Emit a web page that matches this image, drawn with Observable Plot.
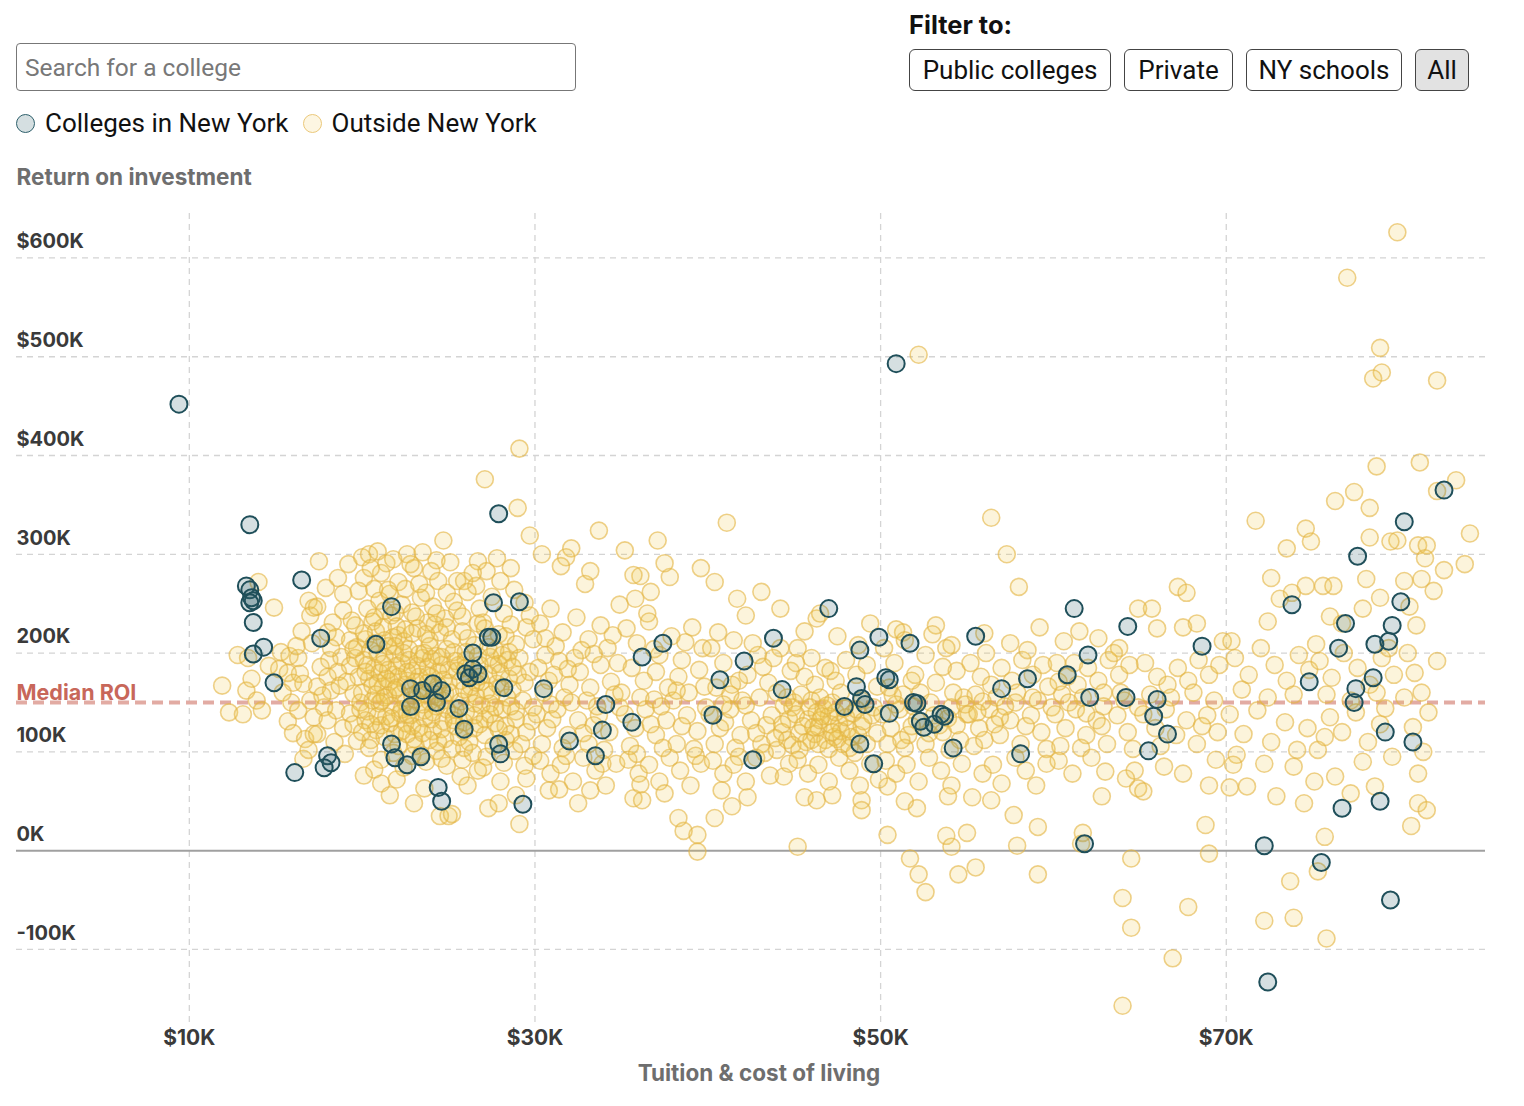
<!DOCTYPE html>
<html><head><meta charset="utf-8">
<script src="https://cdn.jsdelivr.net/npm/d3@7"></script>
<script src="https://cdn.jsdelivr.net/npm/@observablehq/plot@0.6"></script>
<style>
body{margin:0;background:#fff;width:1524px;height:1106px;position:relative;overflow:hidden;font-family:Roboto,sans-serif;}
#search{position:absolute;left:16px;top:43px;width:560px;height:48px;box-sizing:border-box;border:1px solid #777;border-radius:4px;font:24.5px Roboto;padding:0 0 0 8px;color:#333;outline:none}
#search::placeholder{color:#787878}
.legend{position:absolute;left:16px;top:108px;font:26px Roboto;color:#111;display:flex;align-items:center;height:30px}
.sw{display:inline-block;width:19px;height:19px;border-radius:50%;box-sizing:border-box;margin-right:10px}
.legend .item{display:flex;align-items:center;margin-right:14px}
.filter-title{position:absolute;left:909px;top:9px;font:700 25.5px Inter,sans-serif;color:#111}
.buttons{position:absolute;left:909px;top:49px;display:flex;gap:13px}
.buttons button{height:42px;border:1px solid #444;border-radius:6px;background:#fff;font:26px Roboto;color:#111;padding:0;box-sizing:border-box}
#chart{position:absolute;left:0;top:150px}
</style></head>
<body>
<input id="search" placeholder="Search for a college">
<div class="legend">
  <span class="item"><span class="sw" style="background:#d5dfe1;border:1.5px solid #2d5f6b"></span>Colleges in New York</span>
  <span class="item"><span class="sw" style="background:#fdf6e2;border:1.5px solid #ebc87a"></span>Outside New York</span>
</div>
<div class="filter-title">Filter to:</div>
<div class="buttons">
  <button style="width:202px">Public colleges</button>
  <button style="width:109px">Private</button>
  <button style="width:156px">NY schools</button>
  <button style="width:54px;background:#e2e2e2">All</button>
</div>
<div id="chart"></div>
<script>
// Values in thousands of dollars: [tuition & cost of living, return on investment]
const newYorkColleges = [
[9.4,452],[13.5,330],[13.3,268],[13.5,264],[13.6,256],[13.7,253],[13.5,251],[13.7,231],[13.7,199],[14.3,206],
[14.9,170],[16.5,274],[16.1,79],[17.6,215],[18.0,96],[18.2,89],[17.8,84],[20.8,209],[21.7,247],[21.7,108],
[21.9,94],[22.6,87],[23.4,95],[22.8,164],[22.8,146],[23.5,162],[24.1,169],[24.6,162],[24.3,150],[24.4,64],
[24.6,50],[25.6,144],[25.9,123],[26.0,179],[26.2,175],[26.4,184],[26.7,179],[26.4,200],[27.3,216],[27.5,216],
[27.6,251],[27.9,341],[28.2,165],[27.9,108],[28.0,98],[29.1,252],[29.3,47],[30.5,164],[32.0,111],[33.5,96],
[33.9,122],[34.1,148],[35.6,130],[36.2,196],[37.4,210],[40.3,137],[40.7,173],[42.1,192],[42.6,92],[43.8,215],
[44.3,163],[47.0,245],[48.6,166],[48.8,203],[48.9,154],[49.1,148],[47.9,146],[48.8,108],[49.6,88],[49.9,216],
[50.3,175],[50.5,173],[50.5,139],[50.9,493],[51.7,210],[51.9,150],[52.1,149],[52.3,131],[52.5,125],[53.1,128],
[53.5,138],[53.7,136],[54.2,104],[55.5,217],[57.0,164],[58.1,98],[58.5,174],[60.8,178],[61.2,245],[62.0,198],
[62.1,155],[61.8,7],[64.3,227],[64.2,155],[65.5,101],[65.8,136],[66.0,153],[66.6,118],[68.6,207],[72.2,5],
[72.4,-133],[73.8,249],[74.8,171],[75.5,-12],[76.5,205],[76.7,43],[76.9,230],[77.4,150],[77.5,164],[77.6,298],
[78.5,175],[78.6,209],[78.9,50],[79.2,120],[79.4,212],[79.6,228],[79.5,-50],[80.1,252],[80.3,333],[80.8,110],
[82.6,365]
];
const outsideColleges = [
[11.9,167],[12.3,140],[13.1,138],[12.8,198],[13.4,195],[13.3,162],[13.6,174],[13.9,152],[14.2,142],[14.0,272],[14.9,246],[14.6,187],
[15.3,201],[15.8,197],[16.3,195],[15.2,184],[15.7,180],[16.4,179],[16.0,170],[16.6,169],[16.9,253],[17.2,246],[17.0,238],[17.5,293],
[15.7,131],[16.0,119],[16.7,113],[16.6,93],[17.2,118],[18.9,260],[18.9,243],[17.4,247],[19.6,228],[18.3,231],[18.0,221],[18.5,216],
[19.3,213],[19.7,206],[18.8,196],[18.1,193],[17.6,186],[18.0,176],[18.6,181],[19.3,187],[19.8,176],[17.4,166],[18.2,162],[18.7,167],
[19.5,159],[17.0,152],[17.8,145],[18.5,142],[19.3,139],[17.2,135],[18.0,132],[18.9,124],[19.5,128],[17.4,118],[19.7,111],[19.0,98],
[18.2,205],[17.1,210],[16.5,222],[15.9,150],[16.3,142],[17.7,157],[19.1,171],[19.9,150],[18.4,110],[16.9,102],[19.4,233],[17.9,266],
[18.6,276],[19.2,290],[15.4,160],[16.2,207],
[20.0,297],[20.4,300],[20.9,303],[21.4,291],[22.6,300],[23.5,302],[24.7,314],[21.8,295],
[20.1,276],[19.8,263],[20.7,265],[21.1,281],[21.6,260],[22.5,265],[23.0,286],[24.0,283],[24.4,273],[22.1,272],[23.7,261],[20.5,286],
[20.3,245],[21.0,253],[21.7,238],[22.3,249],[22.9,241],[23.4,256],[24.1,247],[24.8,235],[20.6,232],[23.8,231],[22.0,227],[21.3,243],
[20.2,214],[20.8,222],[21.5,207],[22.1,218],[22.7,204],[23.2,225],[23.9,213],[24.5,221],[24.9,204],[21.9,199],[20.5,203],[23.6,200],[22.4,212],[24.2,229],[21.2,226],
[20.1,193],[20.7,185],[21.3,196],[21.8,178],[22.3,190],[22.9,182],[23.5,195],[24.0,176],[24.6,188],[20.4,174],[21.6,171],[22.6,172],[23.3,176],[24.3,197],[25.0,183],[21.0,180],[22.0,187],[23.8,186],
[20.0,160],[20.6,152],[21.2,166],[21.7,147],[22.2,158],[22.8,145],[23.4,162],[23.9,151],[24.4,167],[24.9,143],[20.3,141],[21.5,157],[22.5,168],[23.1,153],[24.2,158],[21.0,149],[23.6,142],[20.9,170],
[20.2,132],[20.8,122],[21.4,136],[21.9,118],[22.5,129],[23.0,113],[23.6,134],[24.1,121],[24.7,131],[20.5,112],[22.2,139],[23.3,124],[24.4,110],[21.1,127],[22.8,137],
[20.4,104],[21.1,92],[21.8,99],[22.4,84],[23.1,106],[23.7,90],[24.3,101],[24.9,86],[20.7,82],[22.9,96],[24.6,93],
[20.1,76],[21.1,68],[23.0,48],[24.5,35],[25.0,35],[22.0,72],[23.6,63],[21.6,56],
[20.3,188],[20.9,199],[21.5,183],[22.1,176],[22.7,193],[23.2,187],[23.8,170],[24.4,181],[20.6,167],[21.3,155],[21.9,163],[22.5,150],[23.1,171],[23.7,158],[24.3,146],[24.8,159],
[20.9,136],[21.6,129],[22.3,143],[22.9,126],[23.5,148],[24.0,133],[24.6,123],[21.3,115],[22.6,118],[23.9,112],[20.7,210],[21.8,216],[22.9,220],[23.9,207],[24.6,196],[22.4,200],
[19.6,195],[20.2,181],[20.8,158],[21.4,174],[22.0,165],[22.6,181],[23.2,160],[23.8,177],[24.4,155],[25.0,170],[25.6,188],[26.2,159],[26.8,176],[27.4,149],[28.0,165],
[19.9,143],[20.5,128],[21.1,151],[21.7,134],[22.3,121],[22.9,157],[23.5,119],[24.1,140],[24.7,152],[25.3,137],[25.9,130],[26.5,149],[27.1,133],[27.7,145],[28.3,126],
[20.1,220],[20.7,236],[21.3,213],[21.9,241],[22.5,224],[23.1,237],[23.7,219],[24.3,240],[24.9,226],[25.5,243],[26.1,215],[26.7,230],[27.3,206],[27.9,219],[28.5,201],
[21.2,189],[21.9,207],[22.6,138],[23.3,199],[24.0,194],[24.7,173],[25.3,201],[26.0,193],[26.5,124],[27.6,188],[28.4,193],[29.0,178],[22.1,106],[23.4,97],[24.8,113],[25.9,104],[27.2,95],[28.6,118],[19.5,204],[20.0,120],
[21.5,264],[23.3,270],[24.9,261],[26.6,268],[27.2,283],[22.8,290],[24.3,294],
[29.1,407],[27.1,376],[29.0,347],[29.7,319],[28.6,286],[28.0,273],[26.7,293],[25.5,273],[25.9,273],
[25.3,252],[26.1,262],[26.8,245],[27.5,257],[28.2,240],[28.8,264],[29.4,251],[25.8,237],[27.0,231],[29.7,238],[26.4,281],[27.8,296],[25.1,292],
[25.2,214],[25.8,222],[26.5,208],[27.1,225],[27.7,203],[28.3,217],[28.9,209],[29.5,226],[26.0,201],[28.6,229],[29.9,214],
[25.4,192],[26.0,185],[26.7,197],[27.3,178],[27.9,189],[28.5,174],[29.1,195],[29.7,181],[25.7,172],[26.9,171],[28.1,198],[29.4,170],
[25.1,160],[25.7,151],[26.3,166],[26.9,147],[27.5,158],[28.1,143],[28.7,163],[29.3,152],[29.9,145],[25.4,143],[27.8,169],[28.9,141],[26.6,156],
[25.3,132],[25.9,121],[26.5,137],[27.1,117],[27.7,129],[28.3,112],[28.9,133],[29.5,120],[26.2,110],[27.4,138],[29.8,131],[25.6,115],
[25.2,103],[25.8,92],[26.4,99],[27.0,84],[27.6,106],[28.2,89],[28.8,101],[29.4,86],[26.7,81],[29.9,96],
[25.2,37],[27.3,43],[28.9,56],[29.1,27],[26.1,66],[28.0,70],[25.7,75],[27.9,48],[29.5,73],
[25.5,182],[26.2,176],[26.8,188],[27.4,196],[28.0,180],[28.7,186],[25.9,163],[26.6,170],[27.2,162],[28.4,155],[25.4,126],[26.0,140],[26.8,128],[27.9,123],[28.6,146],[29.2,108],
[33.7,324],[32.1,306],[35.2,304],[31.8,297],[32.9,270],[31.5,288],[33.2,283],[30.4,300],
[30.3,230],[30.9,245],[31.6,221],[32.4,236],[33.1,214],[33.8,228],[34.5,218],[34.9,249],[31.2,207],[32.7,203],[30.6,215],[34.2,205],
[30.2,185],[30.8,172],[31.4,192],[32.0,168],[32.6,181],[33.2,165],[33.8,188],[34.4,171],[30.5,160],[31.7,155],[33.0,152],[34.6,158],[31.1,178],[32.3,195],
[30.1,138],[30.7,124],[31.3,143],[31.9,117],[32.5,132],[33.1,108],[33.7,137],[34.3,120],[34.9,145],[30.4,108],[31.6,104],[32.8,119],[34.0,102],[30.9,148],[33.4,127],
[30.3,91],[30.9,78],[31.5,87],[32.2,70],[32.8,94],[33.5,81],[34.1,66],[34.7,88],[30.8,61],[32.5,48],[33.2,61],[31.4,62],
[30.6,198],[31.9,184],[33.4,199],[34.8,190],[31.0,133],[32.1,150],[33.6,146],[35.0,160],[31.8,96],[33.9,88],
[37.1,314],[36.1,278],[35.8,255],[37.8,277],[36.7,262],[39.6,286],[35.7,279],[37.5,291],[36.5,240],
[35.3,225],[35.9,210],[36.6,232],[37.2,198],[37.9,217],[38.5,193],[39.1,226],[39.7,205],[35.6,185],[36.3,172],[37.0,181],[37.7,165],[38.3,176],[38.9,160],[39.5,183],[36.1,155],[38.0,152],
[35.2,138],[35.8,124],[36.4,143],[37.0,117],[37.6,132],[38.2,108],[38.8,137],[39.4,121],[39.9,145],[35.5,106],[36.7,128],[38.5,126],[39.2,103],[37.3,146],
[35.4,92],[36.0,78],[36.6,87],[37.2,70],[37.8,94],[38.4,81],[39.0,66],[39.6,88],[35.7,53],[36.2,51],[37.5,58],[36.1,67],
[39.4,-1],[39.4,16],[38.6,20],[38.3,33],
[36.9,204],[38.7,211],[36.9,153],[38.2,162],[39.8,166],[35.9,98],[37.4,104],[39.3,96],
[41.1,332],[40.4,272],[41.7,255],[43.1,262],[42.2,238],[44.2,245],
[40.2,205],[40.9,190],[41.5,213],[42.3,178],[42.9,198],[43.5,170],[44.2,205],[44.8,182],[40.5,165],[41.3,158],[42.0,152],[43.2,186],[44.0,160],[44.6,155],[41.8,172],[43.8,195],
[40.1,138],[40.7,124],[41.3,143],[41.9,117],[42.5,132],[43.1,108],[43.7,137],[44.3,120],[44.9,145],[40.4,108],[41.6,104],[42.8,119],[44.0,102],[40.9,148],[43.4,127],[42.2,147],[44.6,112],[41.0,130],
[40.3,91],[40.9,78],[41.5,87],[42.2,70],[42.8,94],[43.6,76],[44.4,75],[44.7,88],[40.8,61],[42.3,54],[41.4,45],[40.4,33],[45.2,4],
[40.6,221],[42.6,210],[41.4,168],[43.0,155],[44.4,147],[41.8,95],[43.3,99],
[44.7,133],[45.3,119],[45.8,133],[46.0,112],[46.4,125],[46.7,144],[47.0,136],[47.3,115],[47.6,128],[47.8,108],[48.1,123],[48.4,139],[48.7,117],[45.0,150],[46.0,152],[47.2,150],[44.3,128],[43.9,114],[44.9,107],[48.5,99],
[45.6,222],[46.3,235],[46.5,240],[47.5,217],[48.7,208],[49.4,230],[45.2,205],
[45.1,190],[45.6,176],[46.2,168],[46.8,185],[47.4,172],[48.0,193],[48.6,178],[49.2,188],[49.8,166],[45.4,158],[46.5,155],[47.7,160],[48.9,152],[46.0,195],[47.1,182],
[45.1,138],[45.5,126],[45.9,145],[46.2,118],[46.5,132],[46.8,112],[47.1,128],[47.4,140],[47.7,121],[48.0,135],[48.3,115],[48.6,143],[48.9,126],[49.2,108],[49.5,137],[49.8,119],
[45.7,110],[46.3,140],[46.9,147],[47.5,113],[48.2,104],[45.3,102],[46.1,125],[46.6,136],[47.2,120],[47.9,144],[49.0,131],[49.6,145],[46.4,108],[47.0,103],
[45.2,92],[45.8,78],[46.4,87],[47.0,70],[47.6,94],[48.2,81],[48.8,66],[49.4,88],[45.6,54],[46.3,51],[47.2,56],[48.9,51],[48.9,41],[49.9,72],
[52.2,502],[54.1,208],[53.2,228],[51.3,221],
[50.2,205],[50.8,190],[51.4,213],[52.0,178],[52.6,198],[53.2,170],[53.8,205],[54.4,182],[50.5,165],[51.3,158],[52.3,160],[53.6,186],[54.2,160],[54.8,155],[51.8,172],[50.9,224],[53.0,219],
[50.1,138],[50.6,124],[51.1,143],[51.6,117],[52.1,132],[52.6,108],[53.1,137],[53.6,120],[54.1,145],[54.6,112],[50.4,108],[51.4,104],[52.8,119],[54.0,102],[50.9,148],[53.4,127],[55.0,138],[51.9,146],
[50.3,91],[50.9,78],[51.5,87],[52.2,70],[52.8,94],[53.5,81],[54.1,66],[54.7,88],[50.4,65],[52.1,43],[53.9,55],[51.4,50],
[51.7,-8],[52.2,-24],[52.6,-42],[50.4,16],[53.8,15],[54.5,-24],[54.1,4],[55.0,18],
[50.7,157],[51.8,126],[52.9,150],[53.9,134],[54.9,148],[54.4,127],[51.2,112],
[56.4,337],[57.3,300],[58.0,267],[56.0,220],[57.5,210],[59.2,226],
[55.2,190],[55.8,176],[56.4,168],[57.0,185],[57.6,172],[58.2,193],[58.8,178],[59.4,188],[55.5,158],[56.7,155],[57.9,160],[59.1,152],[56.1,200],[58.5,203],
[55.1,138],[55.7,124],[56.3,143],[56.9,117],[57.5,132],[58.1,108],[58.7,137],[59.3,120],[59.9,145],[55.4,106],[56.6,128],[58.4,126],[59.6,103],[57.2,146],
[55.3,54],[55.9,78],[56.5,87],[57.0,68],[57.8,94],[58.4,81],[59.0,66],[59.6,88],[57.7,36],[56.4,51],
[55.5,-17],[57.9,5],[59.1,-24],[59.1,24],
[55.9,151],[56.9,135],[57.8,150],[55.6,140],[56.0,112],[58.8,155],[59.7,166],
[64.9,245],[62.6,215],[61.5,222],[63.8,205],[60.6,212],
[60.2,190],[60.8,176],[61.4,168],[62.0,185],[62.6,172],[63.2,193],[63.8,178],[64.4,188],[60.5,158],[61.7,155],[62.9,160],[64.1,152],[63.5,200],
[60.1,138],[60.7,124],[61.3,143],[61.9,117],[62.5,132],[63.1,108],[63.7,137],[64.3,120],[64.9,145],[60.4,106],[61.6,104],[62.8,126],[64.6,103],
[60.3,91],[61.1,78],[62.2,94],[63.0,80],[64.7,81],[64.9,63],[62.8,55],[64.2,73],
[64.0,-157],[64.5,-78],[64.5,-8],[64.0,-48],[61.6,7],[61.7,18],
[60.9,150],[61.9,139],[62.9,146],[63.9,160],[60.3,171],[61.2,190],
[67.2,267],[67.7,261],[69.8,212],[67.5,226],[66.0,225],[68.3,230],[65.7,245],
[65.3,190],[66.0,176],[66.6,168],[67.2,185],[67.8,172],[68.4,193],[69.0,178],[69.6,188],[65.6,158],[66.8,155],[68.1,160],[69.3,152],
[65.2,138],[65.9,124],[66.5,143],[67.1,117],[67.7,132],[68.3,108],[68.9,137],[69.5,120],[66.2,106],[68.6,126],
[65.2,60],[66.4,85],[67.5,78],[69.0,66],[69.4,92],
[66.9,-109],[67.8,-57],[69.0,-3],[68.8,26],
[71.7,334],[73.5,306],[72.6,276],[74.6,326],[74.9,313],[73.8,261],[74.6,268],[72.4,232],[70.3,212],[73.1,255],
[70.5,195],[71.3,178],[72.0,205],[72.8,188],[73.5,172],[74.2,198],[74.8,183],[70.9,163],[72.4,155],[73.9,158],
[70.2,138],[71.0,118],[71.8,142],[72.6,110],[73.4,130],[74.1,102],[74.7,124],[70.6,97],[72.2,88],[73.9,85],[70.4,87],[70.2,64],
[72.2,-71],[73.9,-68],[73.7,-31],[74.5,48],[71.2,65],[72.9,55],
[79.9,626],[77.0,580],[78.9,509],[79.0,484],[78.5,478],[78.7,389],[77.4,363],[76.3,354],[78.3,347],[79.9,314],[79.5,313],[78.3,317],[78.1,275],[75.6,268],[76.2,268],[76.7,230],[75.2,209],[77.9,245],[78.9,256],[76.0,237],
[75.4,192],[76.1,175],[76.8,200],[77.6,185],[78.3,168],[79.0,195],[79.7,178],[75.8,158],[77.2,152],[78.7,160],[79.4,205],
[75.3,102],[76.0,135],[76.7,120],[77.5,140],[78.2,110],[78.9,128],[79.6,95],[75.7,115],[77.9,90],[79.2,144],
[75.8,-89],[75.3,-21],[75.7,14],[77.2,58],[76.3,75],[78.6,65],[75.1,70],
[82.2,476],[81.2,393],[83.3,375],[82.2,364],[84.1,321],[81.1,309],[81.6,309],[83.8,290],[81.5,296],[82.6,284],[81.3,275],[80.3,273],[82.0,263],[80.6,247],[81.0,228],
[80.5,200],[81.3,160],[82.2,192],[80.9,180],[81.7,140],[80.3,155],[80.8,125],[81.4,100],
[80.7,25],[81.1,48],[81.6,41],[81.1,78]
];
const medianROI = [150];
const xTicks = [10, 30, 50, 70];
const xTickLabels = ["$10K", "$30K", "$50K", "$70K"];
const yTicks = [600, 500, 400, 300, 200, 100, 0, -100];
const yTickLabels = ["$600K", "$500K", "$400K", "300K", "200K", "100K", "0K", "-100K"];
const xTitle = "Tuition & cost of living";
const yTitle = "Return on investment";

const chart = Plot.plot({
  width: 1524, height: 956,
  marginLeft: 16, marginRight: 39, marginTop: 63, marginBottom: 83,
  style: {fontFamily: "Inter, sans-serif", background: "transparent", overflow: "visible"},
  x: {domain: [0, 85], axis: null},
  y: {domain: [-175, 645], axis: null},
  marks: [
    Plot.gridX(xTicks, {stroke: "#d4d4d4", strokeOpacity: 1, strokeWidth: 1.3, strokeDasharray: "6,5"}),
    Plot.gridY(yTicks.filter(d => d !== 0), {stroke: "#d4d4d4", strokeOpacity: 1, strokeWidth: 1.3, strokeDasharray: "6,5"}),
    Plot.ruleY([0], {stroke: "#a0a0a0", strokeWidth: 2}),
    Plot.ruleY(medianROI, {stroke: "#e2aba3", strokeWidth: 4, strokeDasharray: "11,6"}),
    Plot.dot(outsideColleges, {x: d => d[0], y: d => d[1], r: 8.5, fill: "#f1c64a", fillOpacity: 0.2, stroke: "#e3b444", strokeOpacity: 0.62, strokeWidth: 1.6}),
    Plot.dot(newYorkColleges, {x: d => d[0], y: d => d[1], r: 8.5, fill: "#2d5f6b", fillOpacity: 0.2, stroke: "#1f4f5a", strokeWidth: 2}),
    Plot.text(yTicks, {y: d => d, frameAnchor: "left", textAnchor: "start", dy: -16, text: (d, i) => yTickLabels[i], fontSize: 20, fontWeight: 700, fill: "#3a3a3a"}),
    Plot.text(xTicks, {x: d => d, frameAnchor: "bottom", dy: 21, text: (d, i) => xTickLabels[i], fontSize: 21, fontWeight: 700, fill: "#3a3a3a"}),
    Plot.text(medianROI, {y: d => d, frameAnchor: "left", textAnchor: "start", dy: -9, text: () => "Median ROI", fontSize: 21.5, fontWeight: 700, fill: "#c8675a"}),
    Plot.text([yTitle], {frameAnchor: "top-left", textAnchor: "start", dy: -44, text: d => d, fontSize: 22.5, fontWeight: 700, fill: "#6e6e6e"}),
    Plot.text([xTitle], {frameAnchor: "bottom", dx: 8, dy: 57, text: d => d, fontSize: 22.5, fontWeight: 700, fill: "#6e6e6e"})
  ]
});
document.getElementById("chart").append(chart);
</script>
</body></html>
